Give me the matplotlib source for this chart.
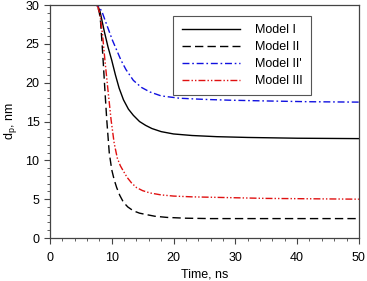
import matplotlib
matplotlib.use("Agg")
import matplotlib.pyplot as plt
from matplotlib.ticker import MultipleLocator

plt.rcParams['font.family'] = ['Liberation Sans', 'DejaVu Sans']
plt.rcParams['font.size'] = 9

# particle diameter vs time
t_I = [0, 7.5, 7.8, 8.1, 8.4, 8.8, 9.4, 10.0, 10.6, 11.2, 11.9, 12.7, 13.5,
       14.5, 15.5, 16.5, 18, 20, 23, 27, 32, 40, 50]
d_I = [30, 30, 29.8, 29.2, 28.1, 26.6, 24.6, 22.9, 21.0, 19.3, 17.8, 16.6, 15.8,
       15.0, 14.5, 14.1, 13.7, 13.4, 13.2, 13.05, 12.95, 12.85, 12.8]

t_II = [0, 7.5, 7.8, 8.0, 8.2, 8.4, 8.6, 8.9, 9.2, 9.6, 10.0, 10.4, 10.8, 11.3,
        11.9, 12.6, 13.5, 14.5, 15.7, 17, 19, 22, 26, 32, 40, 50]
d_II = [30, 30, 29.6, 29.0, 27.8, 25.5, 23.0, 19.0, 15.2, 11.0, 8.8, 7.5, 6.5, 5.5,
        4.6, 4.0, 3.5, 3.2, 3.0, 2.8, 2.65, 2.55, 2.5, 2.5, 2.5, 2.5]

t_IIp = [0, 7.5, 7.9, 8.4, 8.9, 9.5, 10.1, 10.8, 11.5, 12.3, 13.5, 14.8, 16.2,
         18, 21, 25, 29, 35, 42, 50]
d_IIp = [30, 30, 29.8, 29.2, 28.1, 26.8, 25.5, 24.2, 22.9, 21.7, 20.3, 19.4, 18.8,
         18.3, 18.0, 17.85, 17.75, 17.65, 17.55, 17.5]

t_III = [0, 7.5, 7.8, 8.1, 8.5, 8.9, 9.4, 9.9, 10.4, 10.9, 11.4, 11.9, 12.5,
         13.2, 14.0, 15.0, 16.2, 18, 20, 23, 29, 35, 50]
d_III = [30, 30, 29.7, 28.8, 26.3, 22.9, 19.0, 15.2, 12.2, 10.3, 9.3, 8.6, 7.8,
         7.1, 6.5, 6.1, 5.8, 5.55, 5.4, 5.3, 5.2, 5.1, 5.0]

fig = plt.figure(figsize=(3.67, 2.81), dpi=100)
ax = fig.add_axes([0.136, 0.153, 0.842, 0.829])

ax.plot(t_I, d_I, color='black', lw=1.0, label='Model I')
ax.plot(t_II, d_II, color='black', lw=1.0, dashes=(6, 3), label='Model II')
ax.plot(t_IIp, d_IIp, color='#1010e0', lw=1.0, dashes=(5, 2, 1.2, 2), label="Model II'")
ax.plot(t_III, d_III, color='#e01010', lw=1.0, dashes=(5, 1.5, 1, 1.5, 1, 1.5),
        label='Model III')

ax.set_xlim(0, 50)
ax.set_ylim(0, 30)
ax.xaxis.set_major_locator(MultipleLocator(10))
ax.xaxis.set_minor_locator(MultipleLocator(2))
ax.yaxis.set_major_locator(MultipleLocator(5))
ax.yaxis.set_minor_locator(MultipleLocator(1))
ax.tick_params(which='major', length=4, width=0.8, color='#444444')
ax.tick_params(axis='x', which='major', pad=6)
ax.tick_params(which='minor', length=2, width=0.6, color='#444444')
for s in ax.spines.values():
    s.set_color('#444444')
    s.set_linewidth(0.9)

ax.set_xlabel('Time, ns', labelpad=3)
ax.set_ylabel('d$_\\mathregular{p}$, nm', labelpad=5)

leg = ax.legend(loc='upper right', bbox_to_anchor=(0.845, 0.953), borderaxespad=0,
                handlelength=4.7, handletextpad=1.2, fancybox=False,
                framealpha=1, edgecolor='#555555', labelspacing=0.4,
                borderpad=0.65)
leg.get_frame().set_linewidth(0.8)

fig.savefig('out.png', dpi=100)
